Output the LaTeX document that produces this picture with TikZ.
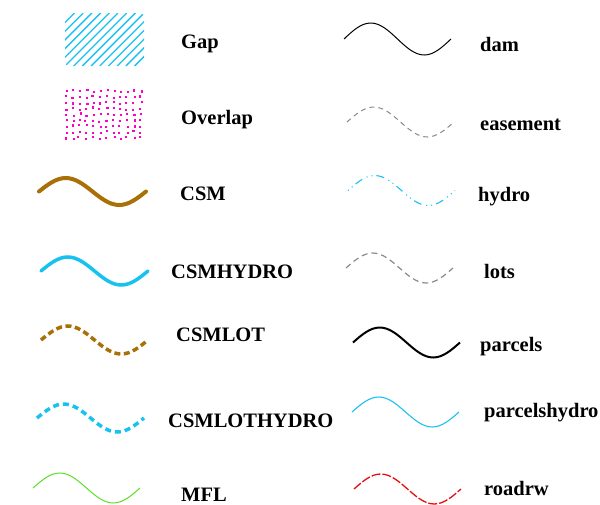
\documentclass[tikz,border=0pt]{standalone}
\usepackage{fontspec}
\setmainfont{Liberation Serif}
\usepackage{tikz}
\definecolor{csmbrown}{RGB}{168,112,6}
\definecolor{hydrocyan}{RGB}{24,194,240}
\definecolor{overlapmag}{RGB}{255,0,200}
\definecolor{mflgreen}{RGB}{90,222,40}
\definecolor{roadred}{RGB}{228,16,16}
\definecolor{lotgray}{RGB}{138,138,138}

\begin{document}
\begin{tikzpicture}[x=1pt, y=-1pt,
  lbl/.style={anchor=base west, inner sep=0pt, font=\bfseries\fontsize{20.5}{24}\selectfont},
  wave/.style={insert path={sin ++(26.75,-#1) cos ++(26.75,#1) sin ++(26.75,#1) cos ++(26.75,-#1)}},
  wave/.default=15,
  csm/.style={line width=4pt, csmbrown, line cap=round},
  csmhydro/.style={line width=3.5pt, hydrocyan, line cap=round},
  csmlot/.style={line width=3.5pt, csmbrown, dash pattern=on 6pt off 3.5pt},
  csmlothydro/.style={line width=3.5pt, hydrocyan, dash pattern=on 6pt off 4pt},
  mfl/.style={line width=1pt, mflgreen},
  dam/.style={line width=1pt, black},
  easement/.style={line width=1pt, lotgray, dash pattern=on 5pt off 4pt},
  hydro/.style={line width=1.1pt, hydrocyan, dash pattern=on 1pt off 4pt on 1pt off 4pt on 8pt off 5pt},
  lots/.style={line width=1.2pt, lotgray, dash pattern=on 6pt off 4pt},
  parcels/.style={line width=2pt, black},
  parcelshydro/.style={line width=1.1pt, hydrocyan},
  roadrw/.style={line width=1.3pt, roadred, dash pattern=on 9pt off 2pt}]
\useasboundingbox (0,0) rectangle (600,504);

\begin{scope}
\clip[rounded corners=4pt] (65,13) rectangle (144,66);
\foreach \k in {-6,...,9}
  \draw[hydrocyan, line width=1.3pt] (65+\k*8.7,66) -- ++(53,-53);
\end{scope}
\node[lbl] (gap) at (181,48) {Gap};

\begin{scope}
\clip[rounded corners=4pt] (64,89) rectangle (145,142);
\pgfmathsetseed{11}
\foreach \i in {0,...,11}
  \foreach \j in {0,...,8}
    \fill[overlapmag] ({65+\i*6.8+rand*1.3},{90+\j*5.9+rand*1.3}) rectangle ++(2.1,2.1);
\end{scope}
\node[lbl] (overlap) at (181,124) {Overlap};

\draw[csm] (39,191.5) [wave=13.5];
\node[lbl] (csmlbl) at (180,200) {CSM};

\draw[csmhydro] (41,271) [wave=14];
\node[lbl] (csmhydrolbl) at (171,278) {CSMHYDRO};

\draw[csmlot] (41,340) [wave=14];
\node[lbl] (csmlotlbl) at (176,341.5) {CSMLOT};

\draw[csmlothydro] (37,418) [wave=14];
\node[lbl] (csmlothydrolbl) at (168,427) {CSMLOTHYDRO};

\draw[mfl] (33,488) [wave=15];
\node[lbl] (mfllbl) at (181,501) {MFL};

\draw[dam] (344,39) [wave=16];
\node[lbl] (damlbl) at (480,51.5) {dam};

\draw[easement] (347,122) [wave=15];
\node[lbl] (easementlbl) at (480,130.5) {easement};

\draw[hydro] (348,190.5) [wave=15];
\node[lbl] (hydrolbl) at (478,201.5) {hydro};

\draw[lots] (346,268) [wave=15];
\node[lbl] (lotslbl) at (484,278) {lots};

\draw[parcels] (353,342.5) [wave=15];
\node[lbl] (parcelslbl) at (480,351.5) {parcels};

\draw[parcelshydro] (352,412) [wave=15];
\node[lbl] (parcelshydrolbl) at (484,417) {parcelshydro};

\draw[roadrw] (354,489) [wave=15];
\node[lbl] (roadrwlbl) at (484,495) {roadrw};
\end{tikzpicture}
\end{document}
